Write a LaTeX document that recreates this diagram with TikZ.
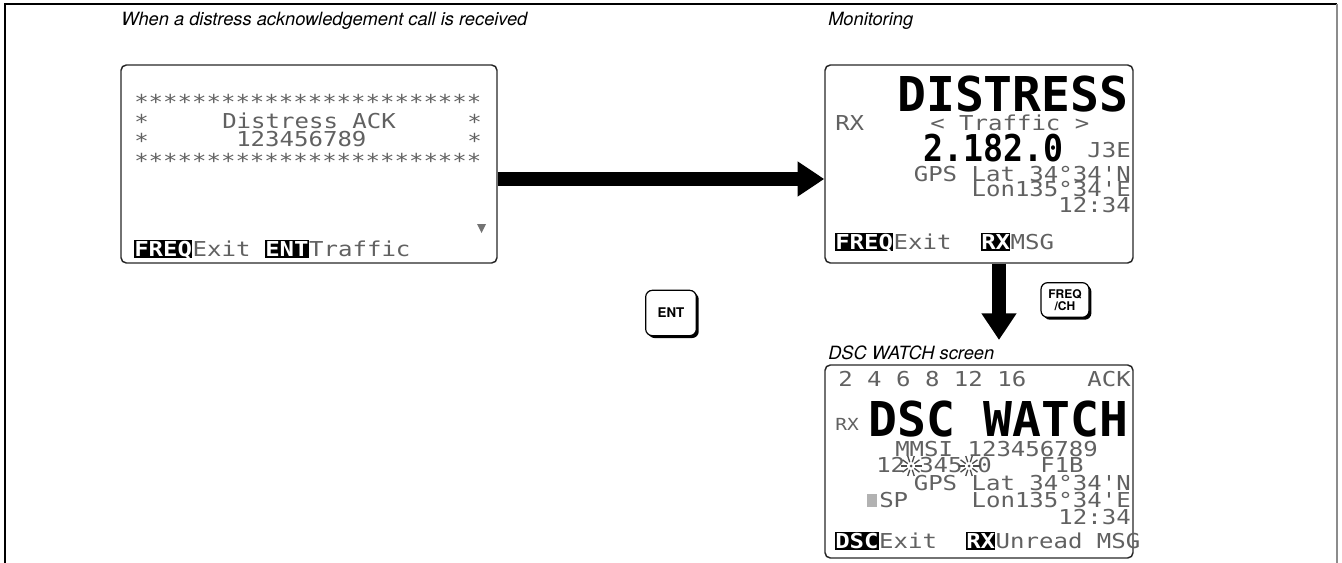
\documentclass[tikz,border=0pt]{standalone}
\usepackage{fontspec}
\setmainfont{TeX Gyre Heros}
\newfontfamily\lcdfont{DejaVu Sans Mono}[FakeStretch=1.17]
\newfontfamily\lcdbigfont{DejaVu Sans Mono}
\usepackage{graphicx}
\usetikzlibrary{arrows.meta,positioning,shadows}

% looks of the screens and keys
\tikzset{
  screen/.style={draw=black!85, line width=1.1pt, rounded corners=4pt},
  lcd/.style={font=\lcdfont\fontsize{15.4}{15.4}\selectfont, text=black!62, inner sep=0pt,
    text height=11.3pt, text depth=0.3pt, anchor=base west},
  lcdsmall/.style={font=\lcdfont\fontsize{12.5}{12.5}\selectfont, text=black!62, inner sep=0pt,
    text height=9.2pt, text depth=0.2pt, anchor=base west},
  lcdbig/.style={font=\lcdbigfont\bfseries\fontsize{36}{36}\selectfont, inner sep=0pt,
    text height=26.5pt, text depth=0pt, anchor=base west},
  inv/.style={font=\lcdfont\bfseries\fontsize{15.4}{15.4}\selectfont, fill=black, text=white,
    inner xsep=0pt, inner ysep=0pt, text height=12pt, text depth=1.2pt, anchor=base west},
  caption/.style={font=\itshape\fontsize{13.7}{15}\selectfont, inner sep=0pt, anchor=base west},
  keycap/.style={draw, fill=white, line width=0.9pt, rounded corners=5pt, align=center,
    font=\bfseries\fontsize{9}{8.5}\selectfont,
    drop shadow={opacity=1, fill=black, shadow xshift=1.8pt, shadow yshift=-1.8pt}},
  bigarrow/.style={line width=10pt, -{Triangle[length=20pt,width=25pt]}}
}

\begin{document}
\begin{tikzpicture}[x=0.75pt,y=-0.75pt]
    \useasboundingbox (0,0) rectangle (1342,563);

    % outer frame
    \draw[line width=1.8pt] (5,563) -- (5,4) -- (1337,4);
    \draw[black!45, line width=1pt] (1337,4) -- (1337,563);

    % captions
    \node[caption] (capack) at (121,26) {When a distress acknowledgement call is received};
    \node[caption] (capmon) at (828,26) {Monitoring};
    \node[caption] (capdsc) at (828,359) {DSC WATCH screen};

    % screens
    \node[screen, minimum width=282pt, minimum height=148.5pt] (ack) at (309,164) {};
    \node[screen, minimum width=231pt, minimum height=148.5pt] (mon) at (979,164) {};
    \node[screen, minimum width=231pt, minimum height=144.75pt] (dsc) at (979,461.5) {};

    % distress ACK screen
    \node[lcd] (a1) at (134,110) {************************};
    \node[lcd] (a2l) at (134,130) {*};
    \node[lcd] (a2) at (222,129) {Distress ACK};
    \node[lcd, anchor=base east] (a2r) at (482,130) {*};
    \node[lcd] (a3l) at (134,149) {*};
    \node[lcd] (a3) at (236,147) {123456789};
    \node[lcd, anchor=base east] (a3r) at (482,149) {*};
    \node[lcd] (a4) at (134,169) {************************};
    \fill[black!55] (477,224) -- (486,224) -- (481.5,233) -- cycle;
    \node[inv] (afreq) at (134,256) {FREQ};
    \node[lcd, right=0pt of afreq.base east, anchor=base west] (aexit) {Exit};
    \node[inv] (aent) at (265,256) {ENT};
    \node[lcd, right=0pt of aent.base east, anchor=base west] (atraf) {Traffic};

    % monitoring screen
    \node[lcdbig] (mdis) at (897,112) {DISTRESS};
    \node[lcd] (mrx) at (835,131) {RX};
    \node[lcd] (mtraf) at (930,131) {< Traffic >};
    \node[lcd, anchor=base east] (mmode) at (1131,158) {J3E};
    \node[lcdbig, text height=20.5pt] (mfreq) at (923,162) {\scalebox{0.9}[1]{\fontsize{27.7}{27.7}\selectfont 2.182.0}};
    \node[lcd, anchor=base east] (mlat) at (1131,181) {GPS Lat 34°34'N};
    \node[lcd, anchor=base east] (mlon) at (1131,197) {Lon135°34'E};
    \node[lcd, anchor=base east] (mtime) at (1131,213) {12:34};
    \node[inv] (mfreqk) at (835,249) {FREQ};
    \node[lcd, right=0pt of mfreqk.base east, anchor=base west] (mexit) {Exit};
    \node[inv] (mrxk) at (981,249) {RX};
    \node[lcd, right=0pt of mrxk.base east, anchor=base west] (mmsg) {MSG};

    % DSC watch screen
    \node[lcd] (dband) at (838,386) {2 4 6 8 12 16};
    \node[lcd, anchor=base east] (dack) at (1131,386) {ACK};
    \node[lcdsmall] (drx) at (835,430) {RX};
    \node[lcdbig] (dwatch) at (868,436) {DSC WATCH};
    \node[lcd] (dmmsi) at (895,456) {MMSI 123456789};
    \node[lcd] (dna) at (876,472) {12};
    \node[lcd] (dnb) at (919,472) {345};
    \node[lcd] (dnc) at (977,472) {0};
    \node[lcd] (dmode) at (1040,472) {F1B};
    \foreach \cx in {911,969}{
      \foreach \a in {0,36,...,324}
        \draw[black!70, line width=1pt] (\cx,466) ++(\a:4) -- ++(\a:6.5);
      \fill[black!70] (\cx,466) circle (1.5);
    }
    \node[lcd, anchor=base east] (dlat) at (1131,490) {GPS Lat 34°34'N};
    \fill[black!30] (867,494) rectangle (877,507);
    \node[lcd] (dsp) at (879,507) {SP};
    \node[lcd, anchor=base east] (dlon) at (1131,507) {Lon135°34'E};
    \node[lcd, anchor=base east] (dtime) at (1131,524) {12:34};
    \node[inv] (ddsck) at (835,548) {DSC};
    \node[lcd, right=0pt of ddsck.base east, anchor=base west] (dexit) {Exit};
    \node[inv] (drxk) at (966,548) {RX};
    \node[lcd, right=0pt of drxk.base east, anchor=base west] (dunread) {Unread MSG};

    % keys
    \node[keycap, minimum width=38pt, minimum height=34pt, font=\bfseries\fontsize{10}{10}\selectfont] (ent) at (671,313) {ENT};
    \node[keycap, minimum width=36pt, minimum height=26pt] (freqch) at (1065,300) {FREQ\\/CH};

    % arrows between screens
    \draw[bigarrow] ([yshift=-11.25pt]ack.east) -- ([yshift=-11.25pt]mon.west);
    \coordinate (dtip) at (999,340);
    \draw[bigarrow] (mon.south -| dtip) -- (dtip);

\end{tikzpicture}
\end{document}
